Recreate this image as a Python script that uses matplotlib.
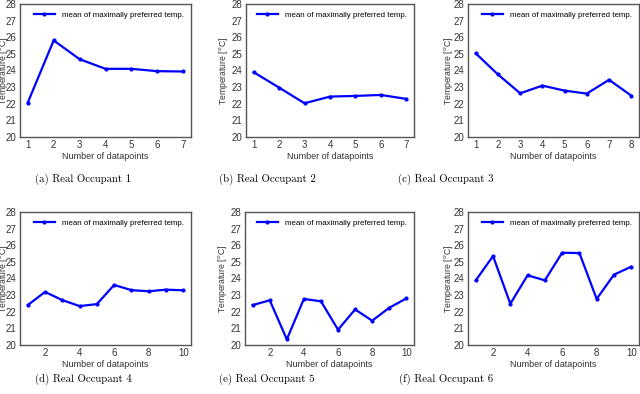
import matplotlib
matplotlib.use('Agg')

import matplotlib.pyplot as plt

plt.rcParams['font.family'] = ['Liberation Sans', 'DejaVu Sans']
plt.rcParams['mathtext.fontset'] = 'custom'
plt.rcParams['mathtext.rm'] = 'Liberation Sans'

# mean of maximally preferred temperature per occupant
occ1 = [22.07, 25.81, 24.68, 24.10, 24.10, 23.96, 23.94]
occ2 = [23.90, 22.97, 22.03, 22.43, 22.47, 22.53, 22.29]
occ3 = [25.03, 23.76, 22.63, 23.09, 22.79, 22.61, 23.44, 22.49]
occ4 = [22.40, 23.19, 22.70, 22.34, 22.46, 23.61, 23.30, 23.23, 23.33, 23.29]
occ5 = [22.40, 22.69, 20.34, 22.77, 22.63, 20.92, 22.14, 21.46, 22.24, 22.80]
occ6 = [23.89, 25.35, 22.48, 24.19, 23.89, 25.55, 25.53, 22.77, 24.23, 24.71]

series = [occ1, occ2, occ3, occ4, occ5, occ6]
captions = ['(a) Real Occupant 1', '(b) Real Occupant 2', '(c) Real Occupant 3',
            '(d) Real Occupant 4', '(e) Real Occupant 5', '(f) Real Occupant 6']

# axes boxes in pixels (left, top, right, bottom)
boxes = [(20, 4, 191, 137), (246, 4, 414, 137), (468, 4, 639, 137),
         (20, 212, 191, 345), (245, 212, 414, 345), (468, 212, 639, 345)]
# x pixel of the right edge of each y label
ylab_x = [10, 230, 455, 10, 229, 455]
cap_pos = [(83, 179), (267, 179), (446, 179),
           (83, 379), (267, 379), (446, 379)]

W, H = 640, 394
fig = plt.figure(figsize=(6.4, 3.94), dpi=100)

for vals, box, lx, cap, cp in zip(series, boxes, ylab_x, captions, cap_pos):
    l, t, r, b = box
    ax = fig.add_axes([l / W, 1 - b / H, (r - l) / W, (b - t) / H])
    x = list(range(1, len(vals) + 1))
    ax.plot(x, vals, color='blue', linewidth=1.6, marker='.', markersize=4,
            label='mean of maximally preferred temp.')
    ax.set_ylim(20, 28)
    ax.set_yticks(range(20, 29))
    if len(vals) <= 8:
        ax.set_xticks(x)
    else:
        ax.set_xticks([2, 4, 6, 8, 10])
    ax.set_xlabel('Number of datapoints', fontsize=6.5, color='#333333', labelpad=1)
    ax.set_ylabel(r'Temperature [$^o$C]', fontsize=6.2, color='#333333')
    ax.yaxis.set_label_coords((lx - l) / (r - l), 0.5)
    ax.tick_params(length=0, labelsize=7, labelcolor='#333333', pad=2.5)
    for s in ax.spines.values():
        s.set_color('#555555')
        s.set_linewidth(1.0)
    ax.legend(loc='upper right', frameon=False, fontsize=5.7, handlelength=2.6,
              handletextpad=0.9, borderaxespad=0.5)
    fig.text(cp[0] / W, 1 - cp[1] / H, cap, family='cmr10', fontsize=7.8,
             ha='center', va='center')

fig.savefig('out.png', dpi=100)
plt.close('all')
